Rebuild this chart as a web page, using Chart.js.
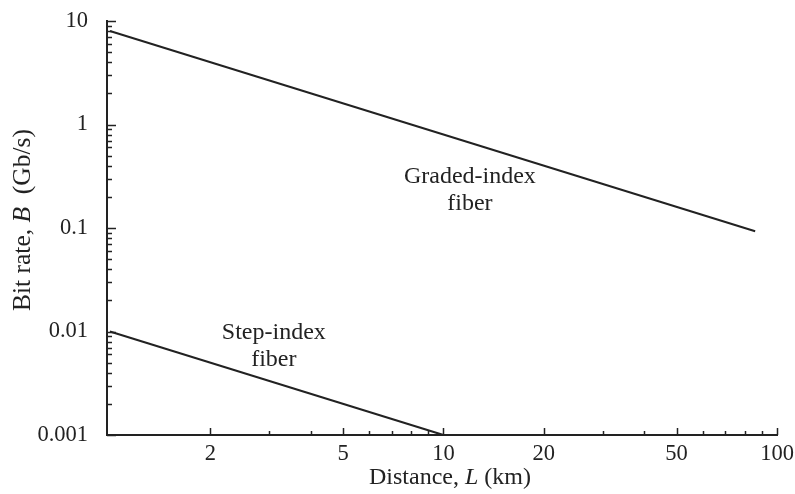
<!DOCTYPE html>
<html>
<head>
<meta charset="utf-8">
<script src="https://cdn.jsdelivr.net/npm/chart.js@4.4.1/dist/chart.umd.min.js"></script>
<style>
html,body{margin:0;padding:0;background:#fff;}
#wrap{width:795px;height:494px;position:relative;}
</style>
</head>
<body>
<div id="wrap"><canvas id="c" width="795" height="494"></canvas></div>
<script>
// Data
const gradedL = [1, 86];
const gradedB = [8, 0.093];
const stepL = [1, 10];
const stepB = [0.01, 0.001];

const xTickValues = [2, 3, 4, 5, 6, 7, 8, 9, 10, 20, 30, 40, 50, 60, 70, 80, 90, 100];
const xTickLabels = [2, 5, 10, 20, 50, 100];
const yTickValues = [];
[0.001, 0.01, 0.1, 1].forEach(d => { for (let k = 1; k <= 9; k++) yTickValues.push(+(d * k).toPrecision(3)); });
yTickValues.push(10);
const yTickLabels = [0.001, 0.01, 0.1, 1, 10];
const yLabelText = {0.001: '0.001', 0.01: '0.01', 0.1: '0.1', 1: '1', 10: '10'};

const annotations = [
  {lines: ['Graded-index', 'fiber'], x: 12, y: 0.234},
  {lines: ['Step-index', 'fiber'], x: 3.1, y: 0.00715}
];

const INK = '#222';
const FONT = '"Liberation Serif", "DejaVu Serif", serif';

const toPts = (xs, ys) => xs.map((x, i) => ({x: x, y: ys[i]}));

const customPlugin = {
  id: 'custom',
  afterDraw(chart) {
    const ctx = chart.ctx;
    const xs = chart.scales.x, ys = chart.scales.y;
    const area = chart.chartArea;
    ctx.save();
    ctx.strokeStyle = INK;
    ctx.lineWidth = 1.5;
    // inward ticks, x axis
    xTickValues.forEach(v => {
      const px = Math.round(xs.getPixelForValue(v)) + 0.5;
      const len = xTickLabels.includes(v) ? 7 : 4;
      ctx.beginPath();
      ctx.moveTo(px, area.bottom);
      ctx.lineTo(px, area.bottom - len);
      ctx.stroke();
    });
    // inward ticks, y axis
    yTickValues.forEach(v => {
      const py = Math.round(ys.getPixelForValue(v)) + 0.5;
      const len = yTickLabels.some(l => Math.abs(l - v) < 1e-9) ? 9 : 5;
      ctx.beginPath();
      ctx.moveTo(area.left, py);
      ctx.lineTo(area.left + len, py);
      ctx.stroke();
    });
    // annotations
    ctx.fillStyle = INK;
    ctx.font = '24px ' + FONT;
    ctx.textAlign = 'center';
    ctx.textBaseline = 'middle';
    annotations.forEach(a => {
      const cx = xs.getPixelForValue(a.x);
      const cy = ys.getPixelForValue(a.y);
      a.lines.forEach((t, i) => ctx.fillText(t, cx, cy + (i - (a.lines.length - 1) / 2) * 27));
    });
    // axis titles with italic variable names
    const drawMixed = (parts, cx, cy, size) => {
      let total = 0;
      parts.forEach(p => { ctx.font = p[1] + size + 'px ' + FONT; p.w = ctx.measureText(p[0]).width; total += p.w; });
      let x = cx - total / 2;
      ctx.textAlign = 'left';
      parts.forEach(p => { ctx.font = p[1] + size + 'px ' + FONT; ctx.fillText(p[0], x, cy); x += p.w; });
    };
    drawMixed([['Distance, ', ''], ['L', 'italic '], [' (km)', '']], 450, 478, 24);
    ctx.save();
    ctx.translate(23, 220);
    ctx.rotate(-Math.PI / 2);
    drawMixed([['Bit rate, ', ''], ['B', 'italic '], ['  (Gb/s)', '']], 0, 0, 25.5);
    ctx.restore();
    ctx.restore();
  }
};

new Chart(document.getElementById('c'), {
  type: 'scatter',
  data: {
    datasets: [
      {label: 'Graded-index fiber', data: toPts(gradedL, gradedB), showLine: true, borderColor: INK, borderWidth: 2, pointRadius: 0, clip: false},
      {label: 'Step-index fiber', data: toPts(stepL, stepB), showLine: true, borderColor: INK, borderWidth: 2, pointRadius: 0, clip: false}
    ]
  },
  plugins: [customPlugin],
  options: {
    responsive: false,
    animation: false,
    layout: {padding: {top: 21, right: 18, left: 0, bottom: 0}},
    plugins: {legend: {display: false}, tooltip: {enabled: false}},
    scales: {
      x: {
        type: 'logarithmic',
        min: 0.98, max: 100,
        grid: {display: false, drawTicks: false},
        border: {display: true, color: INK, width: 2},
        afterBuildTicks: s => { s.ticks = xTickLabels.map(v => ({value: v})); },
        afterFit: s => { s.height = 59; s.paddingLeft = 0; s.paddingRight = 0; },
        ticks: {
          autoSkip: false, maxRotation: 0, padding: 6,
          color: INK, font: {family: FONT, size: 22.5},
          callback: v => String(v)
        }
      },
      y: {
        type: 'logarithmic',
        min: 0.001, max: 10,
        grid: {display: false, drawTicks: false},
        border: {display: true, color: INK, width: 2},
        afterBuildTicks: s => { s.ticks = yTickLabels.map(v => ({value: v})); },
        afterFit: s => { s.width = 107; s.paddingTop = 0; s.paddingBottom = 0; },
        ticks: {
          autoSkip: false, padding: 19,
          color: INK, font: {family: FONT, size: 22.5},
          callback: v => yLabelText[v] !== undefined ? yLabelText[v] : ''
        }
      }
    }
  }
});
</script>
</body>
</html>
